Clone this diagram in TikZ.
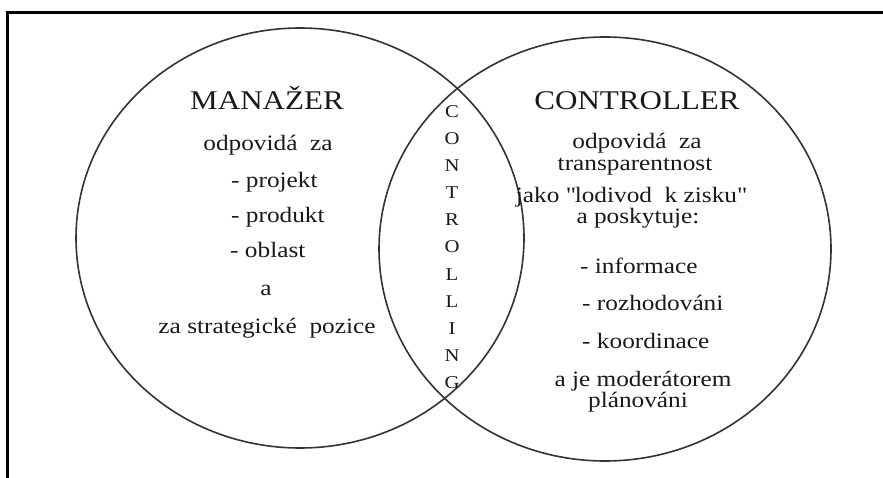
\documentclass[tikz,border=0pt]{standalone}
\usepackage{fontspec}
\setmainfont{Liberation Serif}[FakeStretch=1.15]
\begin{document}
\begin{tikzpicture}[x=1pt,y=-1pt,
  ring/.style={draw=black!80, line width=1.6pt},
  frameline/.style={draw=black, line width=3pt},
  head/.style={anchor=base, inner sep=0pt, text=black!90, font=\fontsize{27}{30}\selectfont},
  body/.style={anchor=base, inner sep=0pt, text=black!90, font=\fontsize{22}{24}\selectfont},
  item/.style={body, anchor=base west},
  vletter/.style={anchor=base, inner sep=0pt, text=black!90, font=\fontsize{18}{20}\selectfont}]
\useasboundingbox (0,0) rectangle (883,478);
\fill[white] (0,0) rectangle (883,478);

% open frame: left and top edges only
\coordinate (fbl) at (7.5,478);
\coordinate (ftl) at (7.5,12.5);
\coordinate (ftr) at (883,12.5);
\draw[frameline] (fbl) -- (ftl) -- (ftr);

% the two overlapping sets
\draw[ring] (300,238) ellipse [x radius=224, y radius=210];
\draw[ring] (605,249) ellipse [x radius=226, y radius=212];

% left set
\node[head] (mh) at (267,110) {MANAŽER};
\node[body] (m1) at (268,151) {odpovidá\ \ za};
\node[item] (m2) at (231,188) {- projekt};
\node[item] (m3) at (231,223) {- produkt};
\node[item] (m4) at (230,258) {- oblast};
\node[body] (m5) at (266,295) {a};
\node[body] (m6) at (267,333) {za strategické\ \ pozice};

% right set
\node[head] (ch) at (637,110) {CONTROLLER};
\node[body] (c1) at (637,149) {odpovidá\ \ za};
\node[body] (c2) at (635,171) {transparentnost};
\node[body] (c3) at (631,203) {jako \textquotedbl lodivod\ \ k zisku\textquotedbl};
\node[body] (c4) at (638,224) {a poskytuje:};
\node[item] (c5) at (580,273) {- informace};
\node[item] (c6) at (582,310) {- rozhodováni};
\node[item] (c7) at (582,348) {- koordinace};
\node[body] (c8) at (643,386) {a je moderátorem};
\node[body] (c9) at (638,407) {plánováni};

% intersection label, one letter per line
\foreach \ch [count=\k from 0] in {C,O,N,T,R,O,L,L,I,N,G}
  \node[vletter] (v\k) at (452,118+27*\k) {\ch};
\end{tikzpicture}
\end{document}
